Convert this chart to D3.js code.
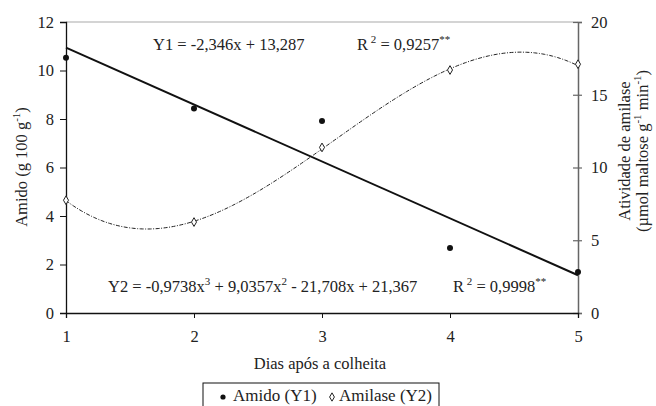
<!DOCTYPE html>
<html><head><meta charset="utf-8">
<script src="https://cdn.jsdelivr.net/npm/d3@7"></script>
<style>
body{margin:0;background:#fff;}
text{font-family:"Liberation Serif","Times New Roman",serif;fill:#222;}
</style></head>
<body>
<svg id="c" width="656" height="406"></svg>
<script>
const days = [1, 2, 3, 4, 5];
const amido = [10.53, 8.43, 7.92, 2.68, 1.69];
const amilase = [7.75, 6.25, 11.38, 16.7, 17.1];
const y1Coef = [13.287, -2.346];                 // a0 + a1 x
const y2Coef = [21.367, -21.708, 9.0357, -0.9738]; // a0 + a1 x + a2 x^2 + a3 x^3
const leftTicks = [0, 2, 4, 6, 8, 10, 12];
const rightTicks = [0, 5, 10, 15, 20];
const xTicks = [1, 2, 3, 4, 5];

const FS = "16.5px", SUP = "11px";
const svg = d3.select("#c");
const L = 66, R = 578, T = 22, B = 313;
const x = d3.scaleLinear().domain([1, 5]).range([L, R]);
const yL = d3.scaleLinear().domain([0, 12]).range([B, T]);
const yR = d3.scaleLinear().domain([0, 20]).range([B, T]);

// top border
svg.append("line").attr("x1", L).attr("x2", R).attr("y1", T).attr("y2", T)
  .attr("stroke", "#aaa").attr("stroke-width", 1.2);

// left axis
const gl = svg.append("g").attr("transform", `translate(${L},0)`)
  .call(d3.axisLeft(yL).tickValues(leftTicks).tickSize(6).tickPadding(6).tickFormat(d3.format("d")));
gl.select(".domain").attr("stroke", "#111").attr("stroke-width", 1.3);
gl.selectAll(".tick line").attr("stroke", "#111");
gl.selectAll("text").style("font-size", FS).style("font-family", "Liberation Serif");

// right axis
const gr = svg.append("g").attr("transform", `translate(${R},0)`)
  .call(d3.axisRight(yR).tickValues(rightTicks).tickSize(4).tickPadding(9));
gr.select(".domain").attr("stroke", "#666").attr("stroke-width", 1.5);
gr.selectAll(".tick line").attr("stroke", "#666").attr("x1", -5).attr("stroke-width", 1.2);
gr.selectAll("text").style("font-size", FS).style("font-family", "Liberation Serif");

// bottom axis
const gb = svg.append("g").attr("transform", `translate(0,${B})`)
  .call(d3.axisBottom(x).tickValues(xTicks).tickSize(5).tickPadding(12).tickFormat(d3.format("d")));
gb.select(".domain").attr("stroke", "#111").attr("stroke-width", 1.3);
gb.selectAll(".tick line").attr("stroke", "#111");
gb.selectAll("text").style("font-size", FS).style("font-family", "Liberation Serif");

// fitted lines
const poly = (c, v) => c.reduce((s, a, i) => s + a * Math.pow(v, i), 0);
const xs = d3.range(1, 5.0001, 0.02);
svg.append("path")
  .attr("d", d3.line().x(d => x(d)).y(d => yL(poly(y1Coef, d)))([1, 5]))
  .attr("fill", "none").attr("stroke", "#111").attr("stroke-width", 2);
svg.append("path")
  .attr("d", d3.line().x(d => x(d)).y(d => yR(poly(y2Coef, d)))(xs))
  .attr("fill", "none").attr("stroke", "#222").attr("stroke-width", 1)
  .attr("stroke-dasharray", "4,1.5,1,1.5");

// points
svg.selectAll(".amido").data(days).enter().append("circle")
  .attr("cx", d => x(d)).attr("cy", (d, i) => yL(amido[i])).attr("r", 3).attr("fill", "#111");
const dia = d3.symbol().type(d3.symbolDiamond).size(22);
svg.selectAll(".amil").data(days).enter().append("path")
  .attr("d", dia).attr("transform", (d, i) => `translate(${x(d)},${yR(amilase[i])})`)
  .attr("fill", "#fff").attr("stroke", "#222").attr("stroke-width", 1);

// equations
function eq(xp, yp, parts) {
  const t = svg.append("text").attr("x", xp).attr("y", yp).style("font-size", FS);
  parts.forEach(p => {
    const s = t.append("tspan").text(p[0]);
    if (p[1] === "sup") s.attr("dy", -7).style("font-size", SUP);
    else if (p[1] === "down") s.attr("dy", 7);
  });
}
eq(153, 50, [["Y1 = -2,346x + 13,287"]]);
eq(357, 50, [["R"], [" 2", "sup"], [" = 0,9257", "down"], ["**", "sup"]]);
eq(108, 292, [["Y2 = -0,9738x"], ["3", "sup"], [" + 9,0357x", "down"], ["2", "sup"], [" - 21,708x + 21,367", "down"]]);
eq(453, 292, [["R"], [" 2", "sup"], [" = 0,9998", "down"], ["**", "sup"]]);

// axis titles
const lt = svg.append("text").attr("transform", "translate(27,167) rotate(-90)")
  .attr("text-anchor", "middle").style("font-size", FS);
lt.append("tspan").text("Amido (g 100 g");
lt.append("tspan").text("-1").attr("dy", -7).style("font-size", SUP);
lt.append("tspan").text(")").attr("dy", 7);

svg.append("text").attr("transform", "translate(630,151) rotate(-90)")
  .attr("text-anchor", "middle").style("font-size", FS).text("Atividade de amilase");
const rt = svg.append("text").attr("transform", "translate(648,151) rotate(-90)")
  .attr("text-anchor", "middle").style("font-size", FS);
rt.append("tspan").text("(µmol maltose g");
rt.append("tspan").text("-1").attr("dy", -7).style("font-size", SUP);
rt.append("tspan").text(" min").attr("dy", 7);
rt.append("tspan").text("-1").attr("dy", -7).style("font-size", SUP);
rt.append("tspan").text(")").attr("dy", 7);

svg.append("text").attr("x", 320).attr("y", 369).attr("text-anchor", "middle")
  .style("font-size", FS).text("Dias após a colheita");

// legend
svg.append("rect").attr("x", 203).attr("y", 383).attr("width", 236).attr("height", 40)
  .attr("fill", "none").attr("stroke", "#111").attr("stroke-width", 1);
svg.append("circle").attr("cx", 223).attr("cy", 397).attr("r", 2.6).attr("fill", "#111");
svg.append("text").attr("x", 233).attr("y", 401).style("font-size", "17px").text("Amido (Y1)");
svg.append("path").attr("d", d3.symbol().type(d3.symbolDiamond).size(20))
  .attr("transform", "translate(332,397)").attr("fill", "#fff").attr("stroke", "#222");
svg.append("text").attr("x", 339).attr("y", 401).style("font-size", "17px").text("Amilase (Y2)");
</script>
</body></html>
